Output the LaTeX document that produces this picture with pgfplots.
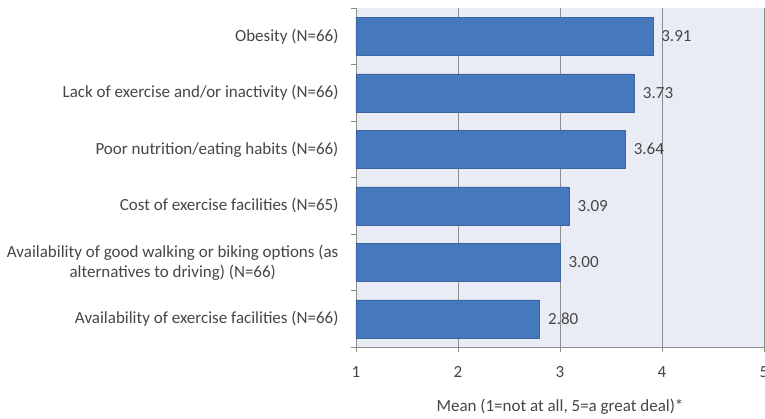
\documentclass[border=0pt]{standalone}
\usepackage{fontspec}
\setmainfont{Carlito}
\usepackage{pgfplots}
\pgfplotsset{compat=1.18}

\definecolor{barblue}{RGB}{70,120,190}
\definecolor{bgfill}{RGB}{233,236,245}
\definecolor{txtgray}{RGB}{70,70,70}
\definecolor{gridgray}{RGB}{140,140,140}

\begin{document}
\begin{tikzpicture}
\begin{axis}[
    scale only axis,
    width=408pt, height=339pt,
    xbar, bar width=38pt,
    xmin=1, xmax=5, ymin=0.5, ymax=6.5,
    xtick={1,2,3,4,5},
    ytick={1,2,3,4,5,6},
    yticklabels={
        Availability of exercise facilities (N=66),
        {Availability of good walking or biking options (as\\alternatives to driving) (N=66)},
        Cost of exercise facilities (N=65),
        Poor nutrition/eating habits (N=66),
        Lack of exercise and/or inactivity (N=66),
        Obesity (N=66)},
    minor ytick={0.5,1.5,...,6.5},
    major tick length=5pt,
    minor tick length=5pt,
    ytick style={draw=none},
    minor y tick style={draw=gridgray},
    tick align=outside,
    xtick style={draw=gridgray},
    axis x line*=bottom, axis y line*=left,
    axis line style={draw=gridgray},
    axis background/.style={fill=bgfill},
    xmajorgrids, grid style={gridgray, line width=0.6pt},
    /pgf/number format/assume math mode=true,
    font=\fontsize{17}{20}\selectfont,
    every tick label/.append style={txtgray},
    yticklabel style={align=center, xshift=-9pt},
    xticklabel style={yshift=-11pt},
    xlabel={Mean (1=not at all, 5=a great deal)*},
    xlabel style={txtgray, at={(axis description cs:0.5,-0.177)}, anchor=center},
    nodes near coords,
    nodes near coords style={txtgray, anchor=west, xshift=5pt,
        /pgf/number format/.cd, fixed, fixed zerofill, precision=2},
]
\addplot[fill=barblue, draw=barblue!85!black] coordinates {
    (2.80,1) (3.00,2) (3.09,3) (3.64,4) (3.73,5) (3.91,6)
};
\end{axis}
\pgfresetboundingbox
\path (-356pt,-71pt) rectangle (409pt,347pt);
\end{tikzpicture}
\end{document}
